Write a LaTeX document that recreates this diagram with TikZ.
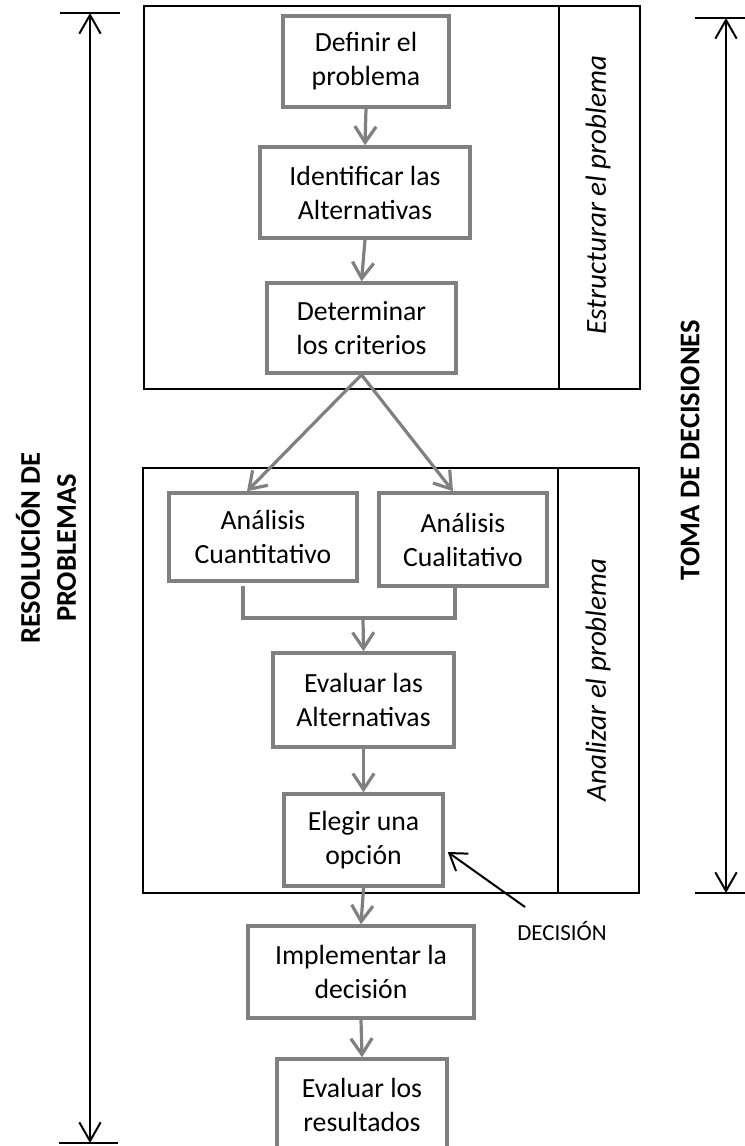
\documentclass[tikz,border=0pt]{standalone}
\usepackage{fontspec}
\setmainfont{Carlito}
\usetikzlibrary{arrows.meta,calc}
\definecolor{flowgray}{RGB}{128,128,128}
\newcommand\pxu{0.75pt}
\begin{document}
\begin{tikzpicture}[x=0.75pt,y=-0.75pt,
  flowbox/.style={draw=flowgray, line width=2.6pt, align=center, inner sep=0pt,
    font=\fontsize{20.8}{25.5}\selectfont, text=black},
  flowline/.style={draw=flowgray, line width=2.4pt},
  flowarrow/.style={flowline, -{Straight Barb[length=12pt,width=16pt]}},
  frame/.style={draw=black, line width=1.5pt},
  span/.style={draw=black, line width=1.5pt,
    {Straight Barb[length=14pt,width=16pt]}-{Straight Barb[length=14pt,width=16pt]}},
  pointer/.style={draw=black, line width=1.5pt, -{Straight Barb[length=12pt,width=16pt]}},
  sidelabel/.style={rotate=90, font=\itshape\fontsize{21.8}{25}\selectfont},
  spanlabel/.style={rotate=90, align=center, font=\bfseries\fontsize{21.4}{27}\selectfont}
]
\useasboundingbox (0,0) rectangle (745,1146);
\clip (0,0) rectangle (745,1146);

% stage frames with their side captions
\draw[frame] (144,6) rectangle (640,389);
\draw[frame] (559,6) -- (559,389);
\draw[frame] (143,468) rectangle (639,893);
\draw[frame] (558,468) -- (558,893);
\node[sidelabel] (estr) at (598,195) {Estructurar el problema};
\node[sidelabel] (anal) at (598,680) {Analizar el problema};

% process steps
\node[flowbox, minimum width=166*\pxu, minimum height=91*\pxu] (def) at (366,61.5) {Definir el\\problema};
\node[flowbox, minimum width=210*\pxu, minimum height=91*\pxu] (ide) at (365,192.5) {Identificar las\\Alternativas};
\node[flowbox, minimum width=189*\pxu, minimum height=90*\pxu] (det) at (361.5,328) {Determinar\\los criterios};
\node[flowbox, minimum width=188*\pxu, minimum height=88*\pxu] (cuan) at (263,537) {Análisis\\Cuantitativo};
\node[flowbox, minimum width=168*\pxu, minimum height=93*\pxu] (cual) at (463,539.5) {Análisis\\Cualitativo};
\node[flowbox, minimum width=181*\pxu, minimum height=94*\pxu] (eva) at (363.5,700) {Evaluar las\\Alternativas};
\node[flowbox, minimum width=159*\pxu, minimum height=92*\pxu] (ele) at (363.5,840) {Elegir una\\opción};
\node[flowbox, minimum width=226*\pxu, minimum height=92*\pxu] (imp) at (361,972) {Implementar la\\decisión};
\node[flowbox, minimum width=170*\pxu, minimum height=92*\pxu] (res) at (362,1105) {Evaluar los\\resultados};

% flow connectors
\draw[flowarrow] (def.south) -- (ide.north);
\draw[flowarrow] (ide.south) -- (det.north);
\draw[flowarrow] (det.south) -- ($(cuan.north)+(-16,0)$);
\draw[flowarrow] (det.south) -- ($(cual.north)+(-10,0)$);
\coordinate (merge) at (363,618);
\draw[flowline] ($(cuan.south)+(-20,3)$) |- (merge);
\draw[flowline] ($(cual.south)+(-8,0)$) |- (merge);
\draw[flowarrow] (merge) -- (eva.north);
\draw[flowarrow] (eva.south) -- (ele.north);
\draw[flowarrow] (ele.south) -- (imp.north);
\draw[flowarrow] (imp.south) -- (res.north);

% decision pointer
\node[font=\fontsize{17.2}{20}\selectfont] (dec) at (562,931) {DECISIÓN};
\coordinate (dectail) at (525,907);
\draw[pointer] (dectail) -- ($(ele.east)+(3,12)$);

% left span: problem solving
\coordinate (ltop) at (90,13);
\coordinate (lbot) at (90,1143);
\draw[frame] ($(ltop)+(-30,0)$) -- ($(ltop)+(30,0)$);
\draw[frame] ($(lbot)+(-31,0)$) -- ($(lbot)+(28,0)$);
\draw[span] (ltop) -- (lbot);
\node[spanlabel] (rp) at (46,548) {RESOLUCIÓN DE\\PROBLEMAS};

% right span: decision making
\coordinate (rtop) at (726,18);
\coordinate (rbot) at (726,893);
\draw[frame] ($(rtop)+(-31,0)$) -- ($(rtop)+(30,0)$);
\draw[frame] ($(rbot)+(-31,0)$) -- ($(rbot)+(30,0)$);
\draw[span] (rtop) -- (rbot);
\node[spanlabel] (td) at (690,450) {TOMA DE DECISIONES};
\end{tikzpicture}
\end{document}
